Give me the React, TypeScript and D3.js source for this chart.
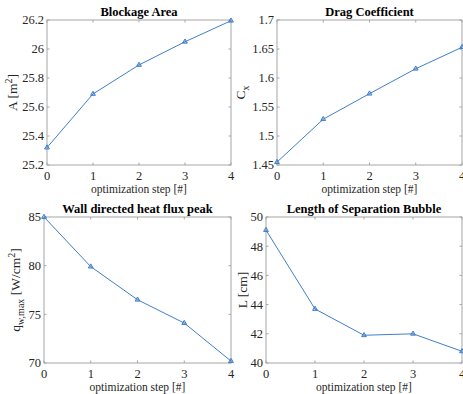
import React from 'react'
import * as d3 from 'd3'

const steps = [0, 1, 2, 3, 4]
const blockageArea = [25.32, 25.69, 25.89, 26.05, 26.195]
const dragCoeff = [1.455, 1.529, 1.573, 1.616, 1.653]
const heatFlux = [85.0, 79.9, 76.5, 74.1, 70.2]
const bubbleLength = [49.1, 43.7, 41.9, 42.0, 40.8]

const ticksA = [25.2, 25.4, 25.6, 25.8, 26, 26.2]
const ticksC = [1.45, 1.5, 1.55, 1.6, 1.65, 1.7]
const ticksQ = [70, 75, 80, 85]
const ticksL = [40, 42, 44, 46, 48, 50]

// no serif font in the sandbox, the list falls back to whatever is there
const FONT = "'Times New Roman', Times, 'Liberation Serif', 'DejaVu Serif', serif"
const LINE = '#3f7fcb'
const AX = '#a6a6a6'
const TXT = '#262626'
const serif = { fontFamily: FONT }

const Panel = ({ x0, x1, y0, y1, values, yTicks, title, yLabel, yLabelX }) => {
  const xs = d3.scaleLinear().domain([0, 4]).range([x0, x1])
  const ys = d3.scaleLinear().domain([yTicks[0], yTicks[yTicks.length - 1]]).range([y1, y0])
  const line = d3.line<number>().x((d, i) => xs(steps[i])).y(d => ys(d))
  const tri = d3.symbol().type(d3.symbolTriangle).size(10)()
  const tl = 2.5
  return (
    <g>
      <rect x={x0} y={y0} width={x1 - x0} height={y1 - y0} fill='white' stroke={AX} strokeWidth={1} />
      {steps.map(s => (
        <g key={'x' + s}>
          <line x1={xs(s)} x2={xs(s)} y1={y1} y2={y1 - tl} stroke={AX} />
          <line x1={xs(s)} x2={xs(s)} y1={y0} y2={y0 + tl} stroke={AX} />
          <text x={xs(s)} y={y1 + 15} textAnchor='middle' fontSize={12.5} fill={TXT} style={serif}>{s}</text>
        </g>
      ))}
      {yTicks.map(t => (
        <g key={'y' + t}>
          <line x1={x0} x2={x0 + tl} y1={ys(t)} y2={ys(t)} stroke={AX} />
          <line x1={x1} x2={x1 - tl} y1={ys(t)} y2={ys(t)} stroke={AX} />
          <text x={x0 - 3} y={ys(t)} dy='0.35em' textAnchor='end' fontSize={12.5} fill={TXT} style={serif}>{t}</text>
        </g>
      ))}
      <path d={line(values)} fill='none' stroke={LINE} strokeWidth={1} />
      {values.map((v, i) => (
        <path key={i} d={tri} transform={`translate(${xs(steps[i])},${ys(v)})`} fill={LINE} fillOpacity={0.35} stroke={LINE} strokeWidth={1} />
      ))}
      <text x={(x0 + x1) / 2} y={y0 - 4} textAnchor='middle' fontSize={12.5} fontWeight='bold' fill='black' style={serif}>{title}</text>
      <text x={(x0 + x1) / 2} y={y1 + 28} textAnchor='middle' fontSize={11.5} fill={TXT} style={serif}>optimization step [#]</text>
      <text transform={`translate(${yLabelX},${(y0 + y1) / 2}) rotate(-90)`} textAnchor='middle' fontSize={13.5} fill={TXT} style={serif}>{yLabel}</text>
    </g>
  )
}

export default function App () {
  return (
    <svg width={463} height={394} style={{ position: 'absolute', left: 0, top: 0, background: 'white' }}>
      <rect width={463} height={394} fill='white' />
      <Panel x0={47} x1={231} y0={20} y1={165} values={blockageArea} yTicks={ticksA}
        title='Blockage Area' yLabelX={17}
        yLabel={<>A [m<tspan dy={-5} fontSize={10}>2</tspan><tspan dy={5}>]</tspan></>} />
      <Panel x0={277} x1={462} y0={20} y1={165} values={dragCoeff} yTicks={ticksC}
        title='Drag Coefficient' yLabelX={245}
        yLabel={<>C<tspan dy={4} fontSize={10}>x</tspan></>} />
      <Panel x0={44} x1={231} y0={217} y1={363} values={heatFlux} yTicks={ticksQ}
        title='Wall directed heat flux peak' yLabelX={20}
        yLabel={<>q<tspan dy={4} fontSize={10}>w,max</tspan><tspan dy={-4}> [W/cm</tspan><tspan dy={-5} fontSize={10}>2</tspan><tspan dy={5}>]</tspan></>} />
      <Panel x0={266} x1={462} y0={217} y1={363} values={bubbleLength} yTicks={ticksL}
        title='Length of Separation Bubble' yLabelX={247}
        yLabel='L [cm]' />
    </svg>
  )
}
